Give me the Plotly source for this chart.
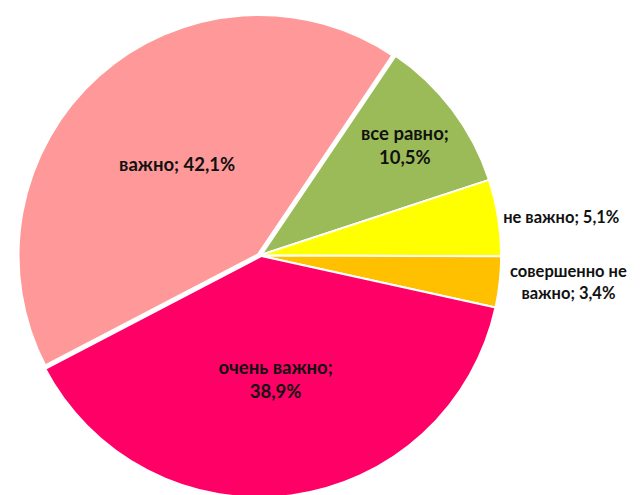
import plotly.graph_objects as go

categories = ["все равно", "не важно", "совершенно не важно", "очень важно", "важно"]
values = [10.5, 5.1, 3.4, 38.9, 42.1]
colors = ["#9BBB59", "#FFFF00", "#FFC000", "#FF0066", "#FF9999"]
text_positions = ["inside", "outside", "outside", "inside", "inside"]
border_widths = [2, 2, 2, 2, 5]


def fmt(v):
    return f"{v:.1f}".replace(".", ",") + "%"


label_lines = ["все равно;<br>", "не важно; ", "совершенно не<br>важно; ", "очень важно;<br>", "важно; "]
texts = [lab + fmt(v) for lab, v in zip(label_lines, values)]

font = dict(family="Lato", size=18.5, color="#111111", weight="bold")
out_font = dict(family="Lato", size=16.5, color="#111111", weight="bold")

fig = go.Figure(go.Pie(
    labels=categories,
    values=values,
    text=texts,
    textinfo="text",
    textposition=text_positions,
    insidetextorientation="horizontal",
    sort=False,
    direction="clockwise",
    rotation=34,
    marker=dict(colors=colors, line=dict(color="white", width=border_widths)),
    textfont=font,
    outsidetextfont=out_font,
    insidetextfont=font,
    domain=dict(x=[0.0085, 0.7730], y=[0.003, 0.993]),
    showlegend=False,
    hoverinfo="label+percent",
))

fig.update_layout(
    width=641,
    height=495,
    margin=dict(l=0, r=0, t=0, b=0),
    paper_bgcolor="white",
    plot_bgcolor="white",
)

fig.write_html("out.html")
